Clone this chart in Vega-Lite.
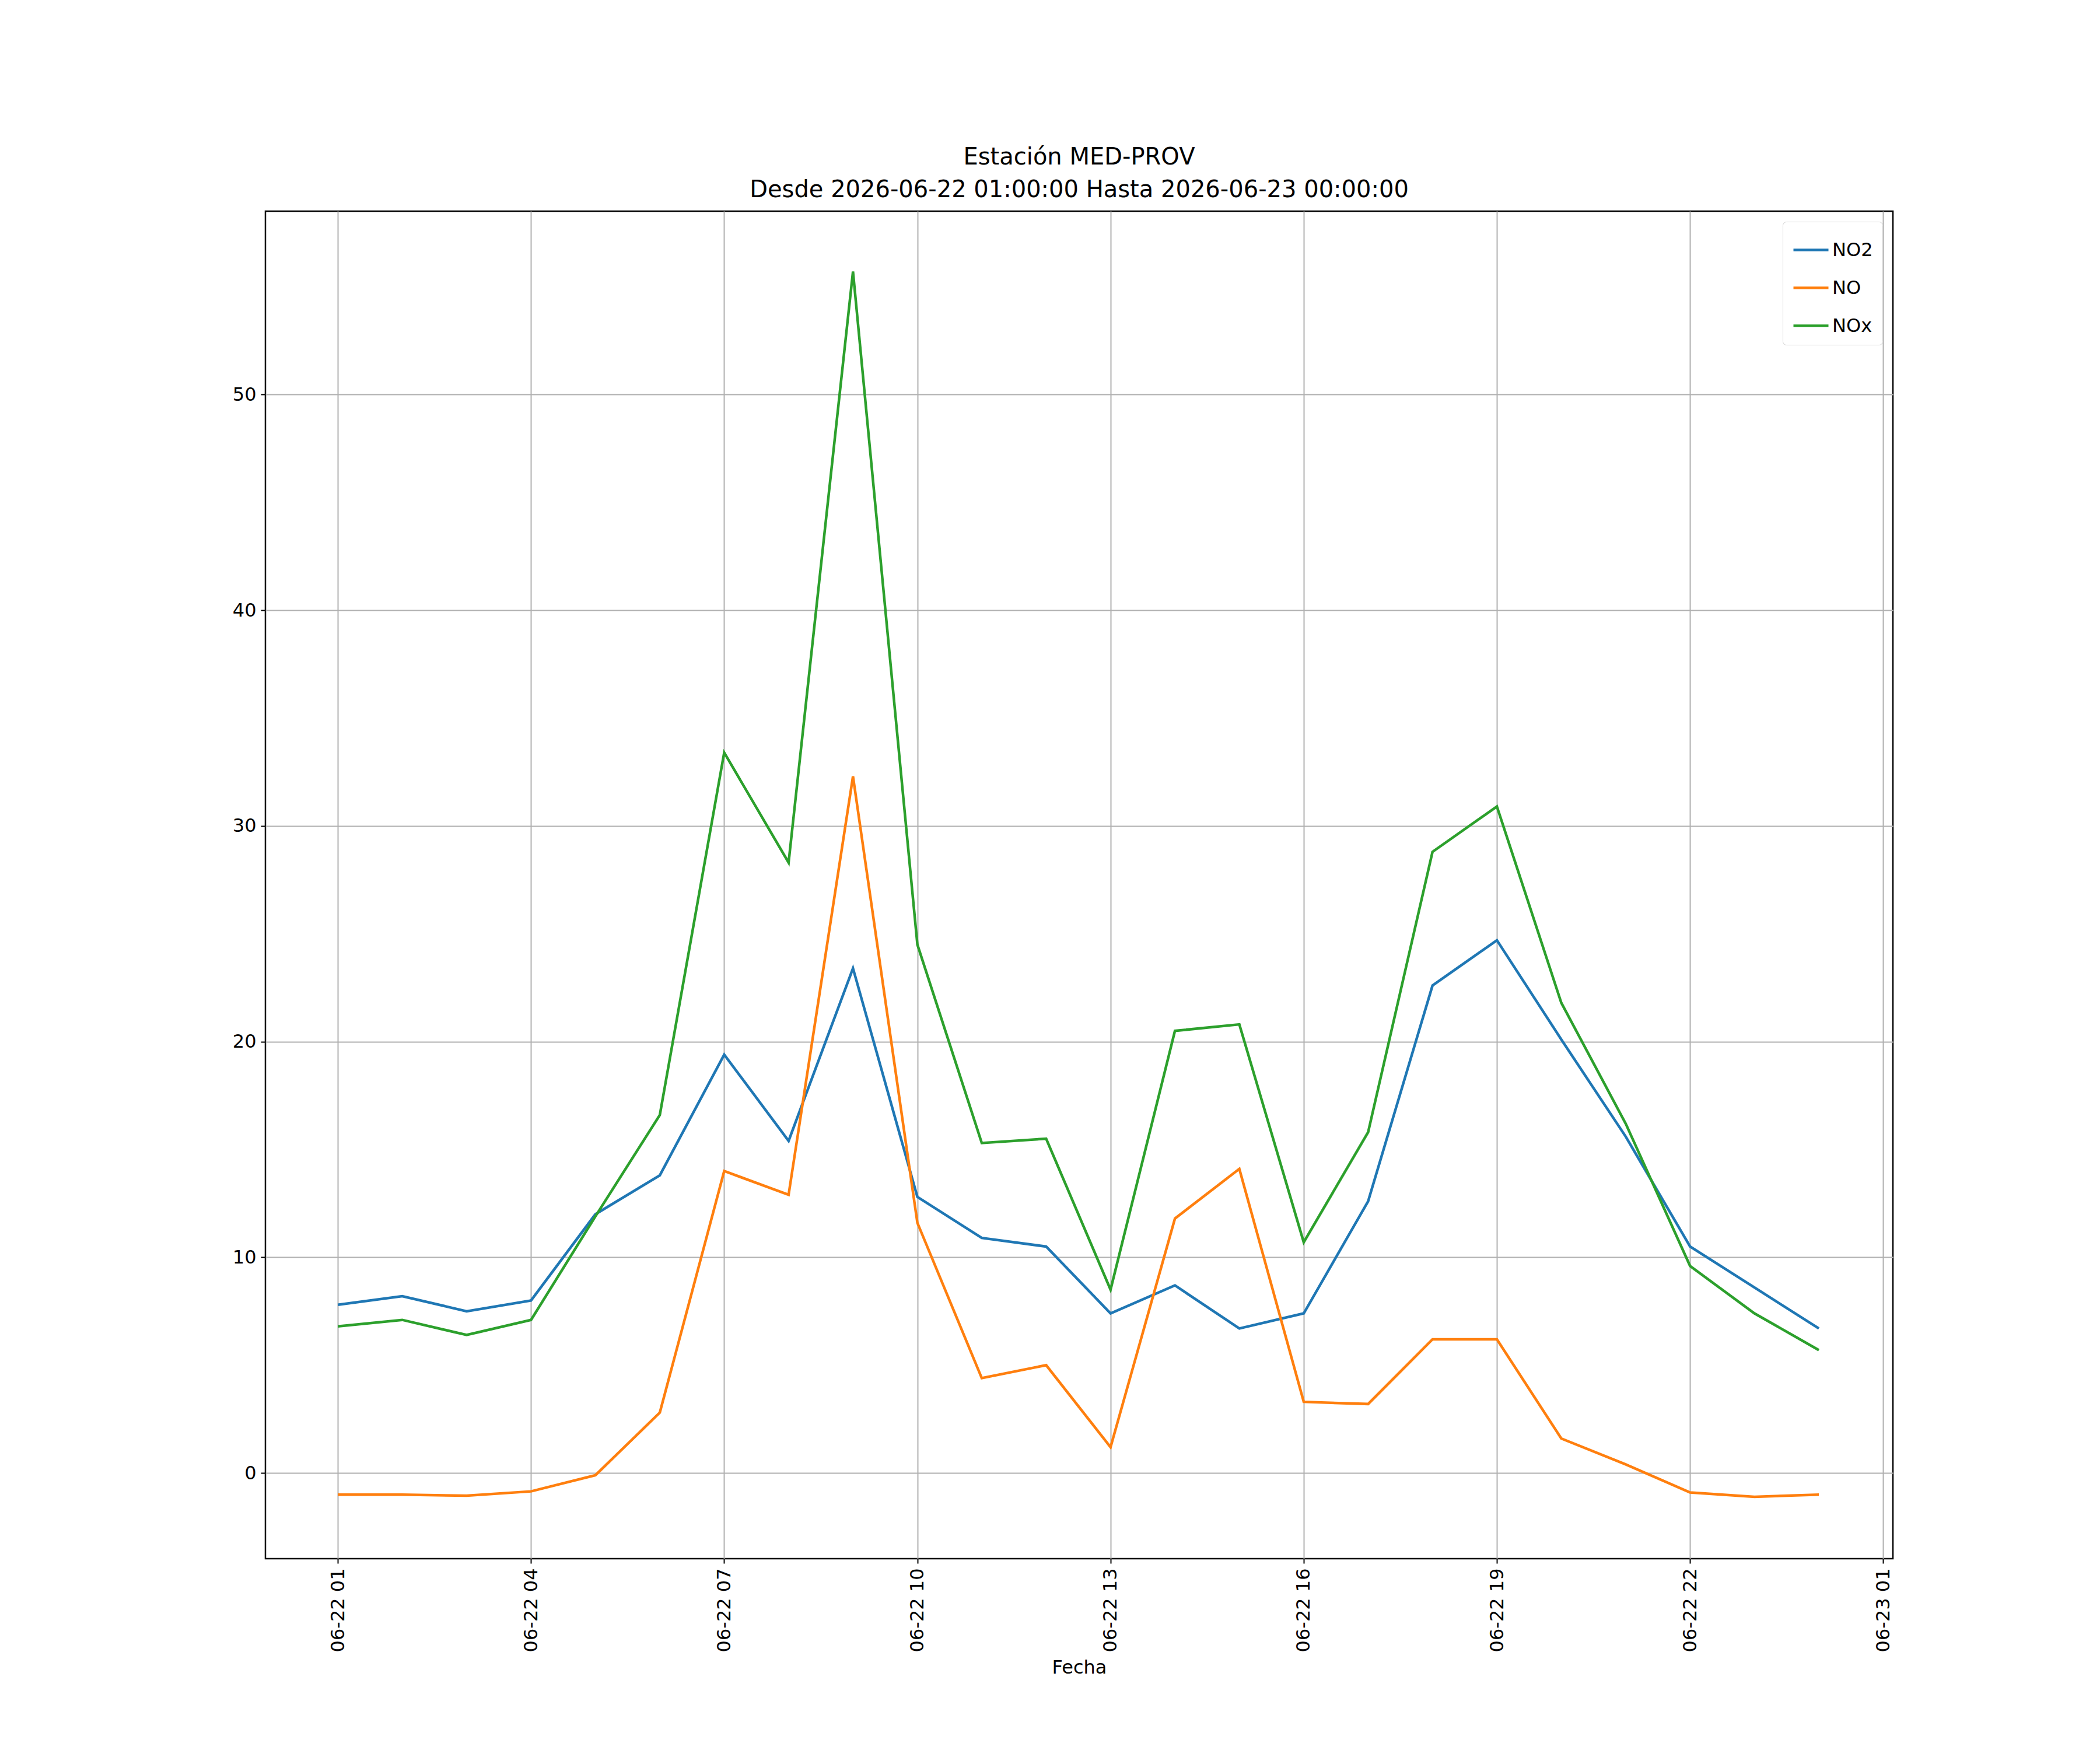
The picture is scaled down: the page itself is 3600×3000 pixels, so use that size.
{
  "$schema": "https://vega.github.io/schema/vega-lite/v6.json",
  "width": 2790,
  "height": 2310,
  "autosize": "none",
  "padding": {"left": 455, "top": 362, "right": 355, "bottom": 328},
  "background": "white",
  "title": {
    "text": ["Estación MED-PROV", "Desde 2026-06-22 01:00:00 Hasta 2026-06-23 00:00:00"],
    "fontSize": 40, "fontWeight": "normal", "font": "DejaVu Sans", "offset": 16, "lineHeight": 56
  },
  "data": {"values": [
    {"t":"2026-06-22T01:00:00Z","s":"NO2","v":7.8},{"t":"2026-06-22T02:00:00Z","s":"NO2","v":8.2},{"t":"2026-06-22T03:00:00Z","s":"NO2","v":7.5},{"t":"2026-06-22T04:00:00Z","s":"NO2","v":8.0},{"t":"2026-06-22T05:00:00Z","s":"NO2","v":12.0},{"t":"2026-06-22T06:00:00Z","s":"NO2","v":13.8},{"t":"2026-06-22T07:00:00Z","s":"NO2","v":19.4},{"t":"2026-06-22T08:00:00Z","s":"NO2","v":15.4},{"t":"2026-06-22T09:00:00Z","s":"NO2","v":23.4},{"t":"2026-06-22T10:00:00Z","s":"NO2","v":12.8},{"t":"2026-06-22T11:00:00Z","s":"NO2","v":10.9},{"t":"2026-06-22T12:00:00Z","s":"NO2","v":10.5},{"t":"2026-06-22T13:00:00Z","s":"NO2","v":7.4},{"t":"2026-06-22T14:00:00Z","s":"NO2","v":8.7},{"t":"2026-06-22T15:00:00Z","s":"NO2","v":6.7},{"t":"2026-06-22T16:00:00Z","s":"NO2","v":7.4},{"t":"2026-06-22T17:00:00Z","s":"NO2","v":12.6},{"t":"2026-06-22T18:00:00Z","s":"NO2","v":22.6},{"t":"2026-06-22T19:00:00Z","s":"NO2","v":24.7},{"t":"2026-06-22T20:00:00Z","s":"NO2","v":20.1},{"t":"2026-06-22T21:00:00Z","s":"NO2","v":15.6},{"t":"2026-06-22T22:00:00Z","s":"NO2","v":10.5},{"t":"2026-06-22T23:00:00Z","s":"NO2","v":8.6},{"t":"2026-06-23T00:00:00Z","s":"NO2","v":6.7},
    {"t":"2026-06-22T01:00:00Z","s":"NO","v":-1.0},{"t":"2026-06-22T02:00:00Z","s":"NO","v":-1.0},{"t":"2026-06-22T03:00:00Z","s":"NO","v":-1.05},{"t":"2026-06-22T04:00:00Z","s":"NO","v":-0.85},{"t":"2026-06-22T05:00:00Z","s":"NO","v":-0.1},{"t":"2026-06-22T06:00:00Z","s":"NO","v":2.8},{"t":"2026-06-22T07:00:00Z","s":"NO","v":14.0},{"t":"2026-06-22T08:00:00Z","s":"NO","v":12.9},{"t":"2026-06-22T09:00:00Z","s":"NO","v":32.3},{"t":"2026-06-22T10:00:00Z","s":"NO","v":11.6},{"t":"2026-06-22T11:00:00Z","s":"NO","v":4.4},{"t":"2026-06-22T12:00:00Z","s":"NO","v":5.0},{"t":"2026-06-22T13:00:00Z","s":"NO","v":1.2},{"t":"2026-06-22T14:00:00Z","s":"NO","v":11.8},{"t":"2026-06-22T15:00:00Z","s":"NO","v":14.1},{"t":"2026-06-22T16:00:00Z","s":"NO","v":3.3},{"t":"2026-06-22T17:00:00Z","s":"NO","v":3.2},{"t":"2026-06-22T18:00:00Z","s":"NO","v":6.2},{"t":"2026-06-22T19:00:00Z","s":"NO","v":6.2},{"t":"2026-06-22T20:00:00Z","s":"NO","v":1.6},{"t":"2026-06-22T21:00:00Z","s":"NO","v":0.4},{"t":"2026-06-22T22:00:00Z","s":"NO","v":-0.9},{"t":"2026-06-22T23:00:00Z","s":"NO","v":-1.1},{"t":"2026-06-23T00:00:00Z","s":"NO","v":-1.0},
    {"t":"2026-06-22T01:00:00Z","s":"NOx","v":6.8},{"t":"2026-06-22T02:00:00Z","s":"NOx","v":7.1},{"t":"2026-06-22T03:00:00Z","s":"NOx","v":6.4},{"t":"2026-06-22T04:00:00Z","s":"NOx","v":7.1},{"t":"2026-06-22T05:00:00Z","s":"NOx","v":11.9},{"t":"2026-06-22T06:00:00Z","s":"NOx","v":16.6},{"t":"2026-06-22T07:00:00Z","s":"NOx","v":33.4},{"t":"2026-06-22T08:00:00Z","s":"NOx","v":28.3},{"t":"2026-06-22T09:00:00Z","s":"NOx","v":55.7},{"t":"2026-06-22T10:00:00Z","s":"NOx","v":24.5},{"t":"2026-06-22T11:00:00Z","s":"NOx","v":15.3},{"t":"2026-06-22T12:00:00Z","s":"NOx","v":15.5},{"t":"2026-06-22T13:00:00Z","s":"NOx","v":8.5},{"t":"2026-06-22T14:00:00Z","s":"NOx","v":20.5},{"t":"2026-06-22T15:00:00Z","s":"NOx","v":20.8},{"t":"2026-06-22T16:00:00Z","s":"NOx","v":10.7},{"t":"2026-06-22T17:00:00Z","s":"NOx","v":15.8},{"t":"2026-06-22T18:00:00Z","s":"NOx","v":28.8},{"t":"2026-06-22T19:00:00Z","s":"NOx","v":30.9},{"t":"2026-06-22T20:00:00Z","s":"NOx","v":21.8},{"t":"2026-06-22T21:00:00Z","s":"NOx","v":16.2},{"t":"2026-06-22T22:00:00Z","s":"NOx","v":9.6},{"t":"2026-06-22T23:00:00Z","s":"NOx","v":7.4},{"t":"2026-06-23T00:00:00Z","s":"NOx","v":5.7}
  ]},
  "mark": {"type": "line", "strokeWidth": 4.5},
  "encoding": {
    "x": {
      "field": "t", "type": "temporal", "title": "Fecha",
      "scale": {"type": "utc", "domain": ["2026-06-21T23:52:30Z", "2026-06-23T01:09:00Z"]},
      "axis": {
        "labelExpr": "utcFormat(datum.value, '%m-%d %H')", "labelAngle": -90,
        "values": ["2026-06-22T01:00:00Z","2026-06-22T04:00:00Z","2026-06-22T07:00:00Z","2026-06-22T10:00:00Z","2026-06-22T13:00:00Z","2026-06-22T16:00:00Z","2026-06-22T19:00:00Z","2026-06-22T22:00:00Z","2026-06-23T01:00:00Z"],
        "titlePadding": 12
      }
    },
    "y": {
      "field": "v", "type": "quantitative", "title": null,
      "scale": {"domain": [-3.97, 58.5], "nice": false, "zero": false},
      "axis": {"values": [0, 10, 20, 30, 40, 50]}
    },
    "color": {
      "field": "s", "type": "nominal", "sort": ["NO2", "NO", "NOx"], "title": null,
      "scale": {"domain": ["NO2", "NO", "NOx"], "range": ["#1f77b4", "#ff7f0e", "#2ca02c"]},
      "legend": {
        "orient": "top-right", "offset": 18, "symbolType": "stroke", "symbolStrokeWidth": 4.5,
        "symbolSize": 3600, "labelFontSize": 32, "rowPadding": 16, "padding": 16,
        "strokeColor": "#cccccc", "fillColor": "white", "cornerRadius": 6
      }
    }
  },
  "config": {
    "font": "DejaVu Sans",
    "view": {"stroke": "black", "strokeWidth": 2.5},
    "axis": {
      "labelFontSize": 32, "titleFontSize": 32, "titleFontWeight": "normal",
      "labelColor": "black", "titleColor": "black",
      "gridColor": "#b0b0b0", "gridWidth": 2, "gridOpacity": 1,
      "domain": false, "tickColor": "black", "tickSize": 8, "tickWidth": 2, "labelPadding": 8
    }
  }
}
